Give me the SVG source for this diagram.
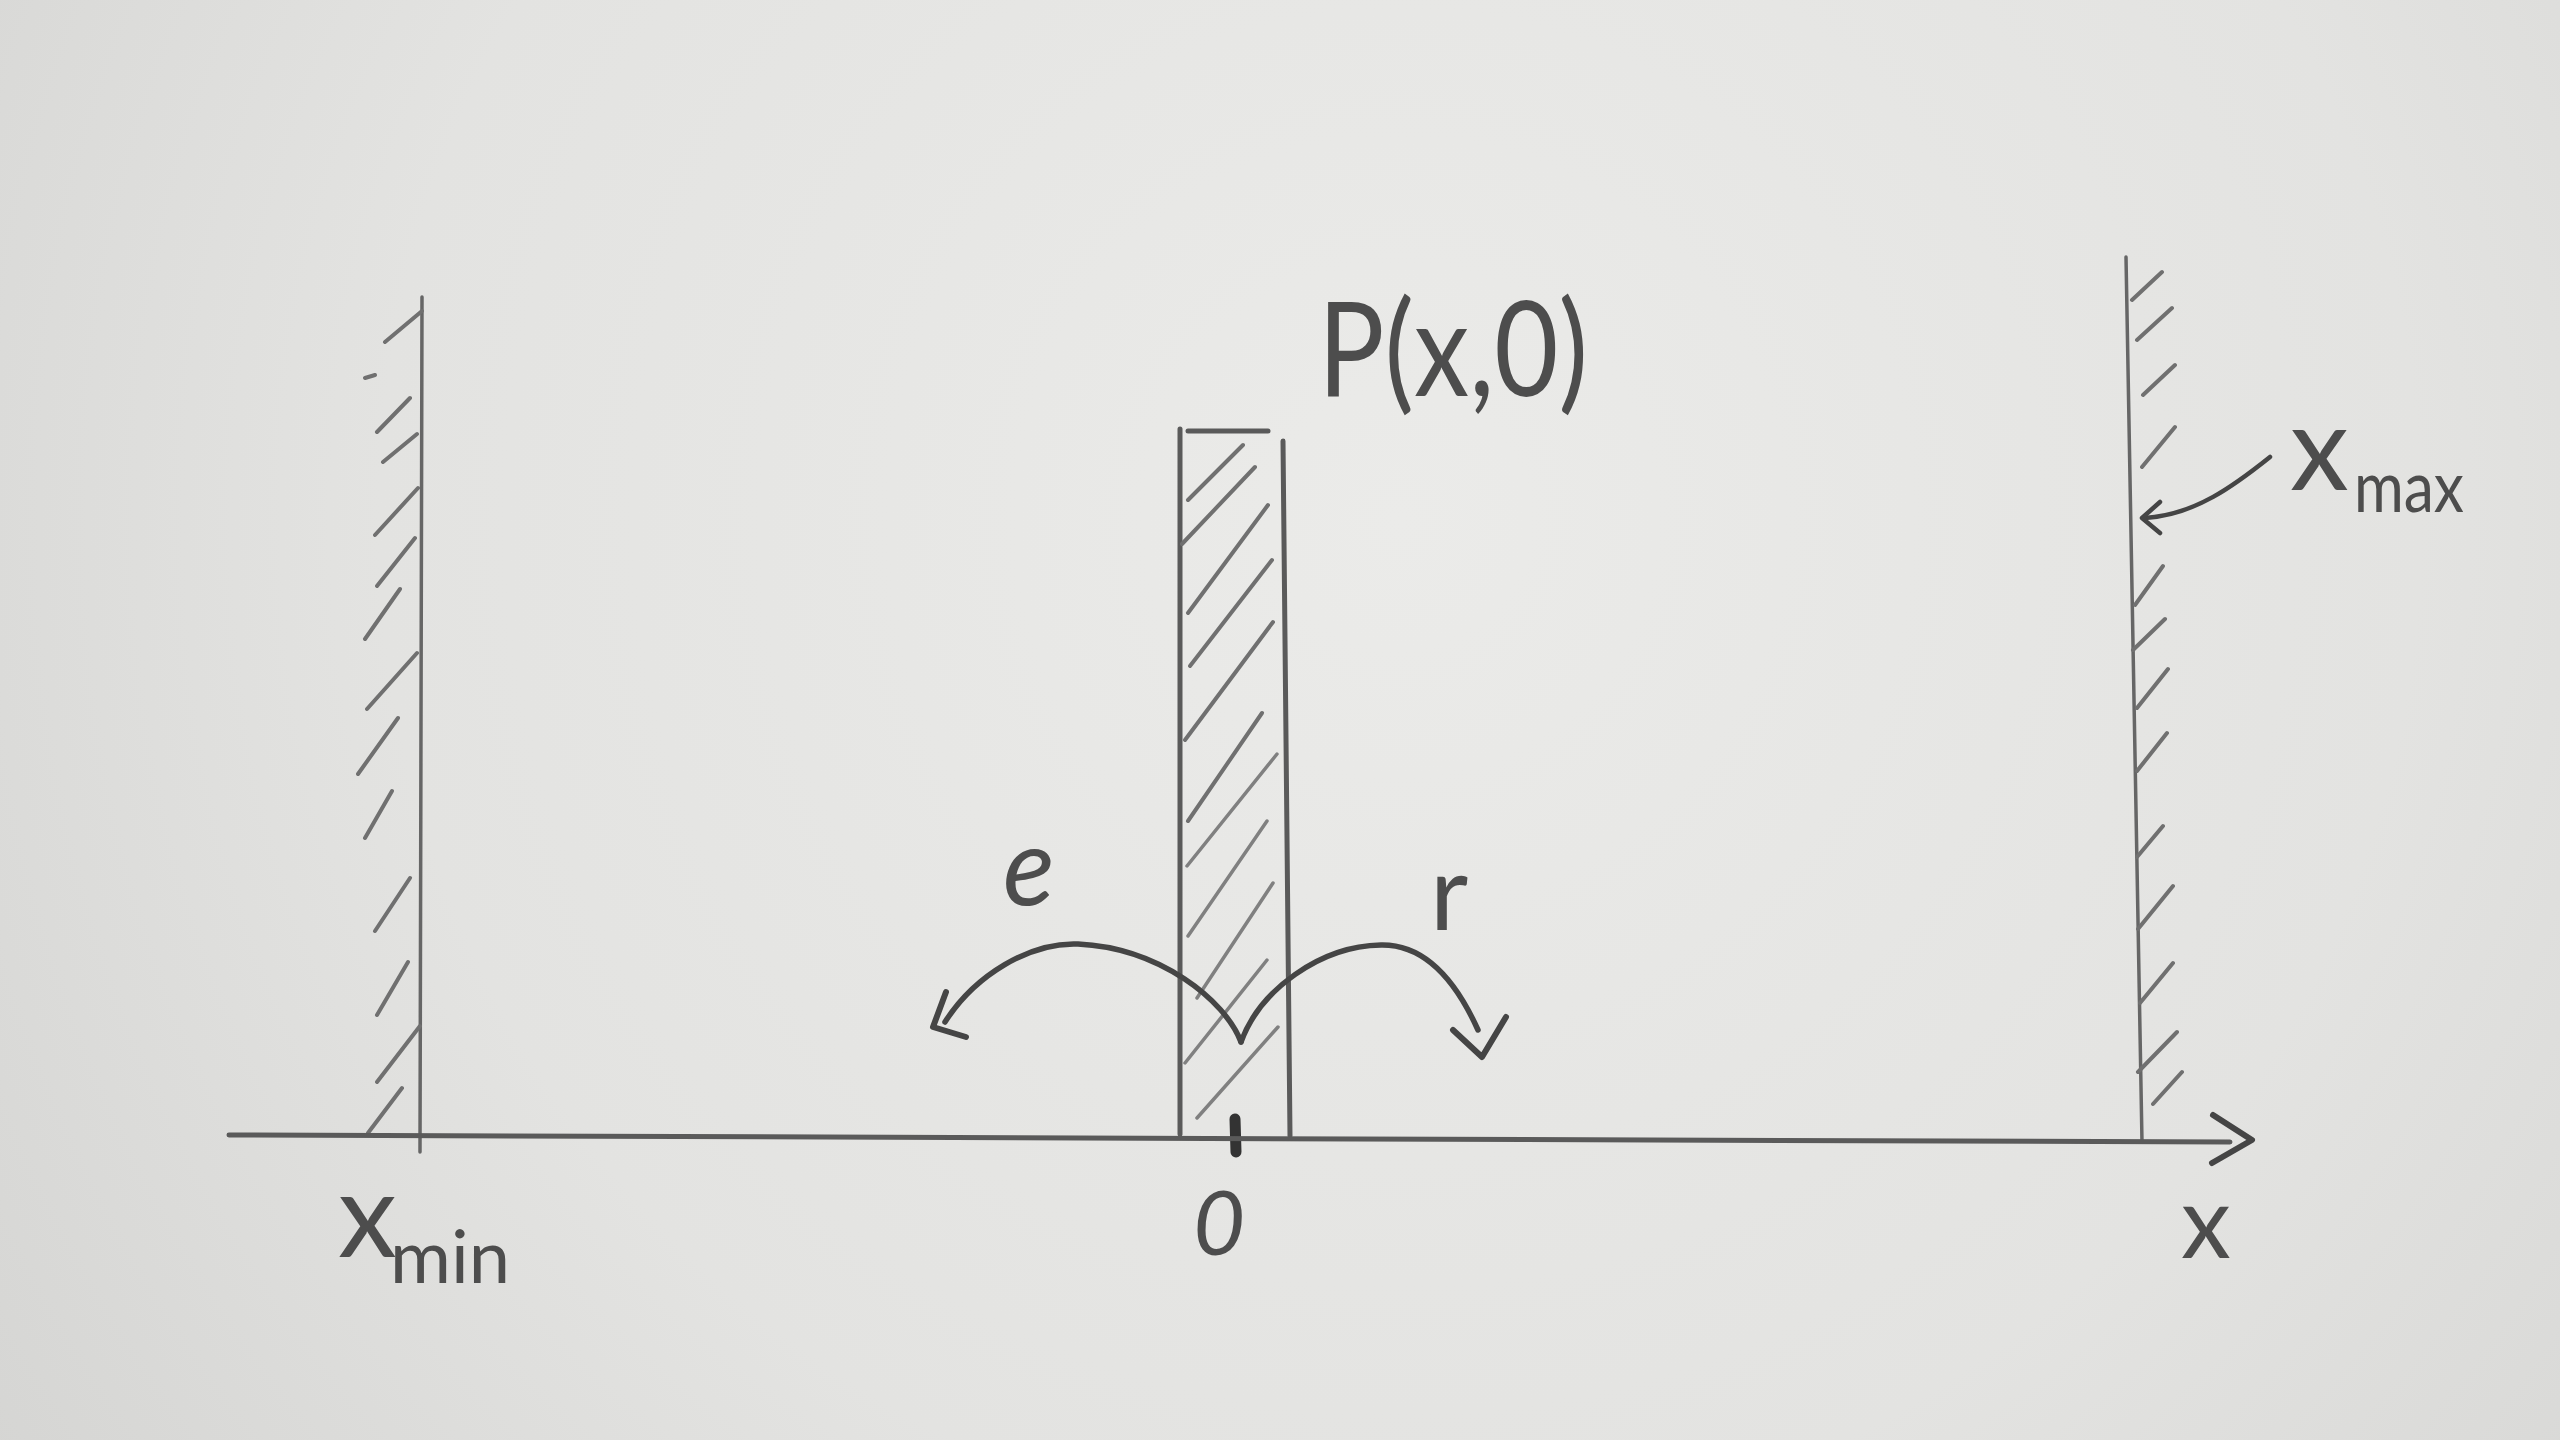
<svg xmlns="http://www.w3.org/2000/svg" width="2560" height="1440" viewBox="0 0 2560 1440">
<defs>
<radialGradient id="paper" cx="1400" cy="520" r="1700" gradientUnits="userSpaceOnUse">
<stop offset="0" stop-color="#ebebe9"/>
<stop offset="0.6" stop-color="#e3e3e1"/>
<stop offset="1" stop-color="#d5d5d3"/>
</radialGradient>
<style>
.wall{fill:none;stroke:#666;stroke-width:3.5;stroke-linecap:round}
.hatch{fill:none;stroke:#707070;stroke-width:4;stroke-linecap:round}
.edge{fill:none;stroke:#5a5a5a;stroke-width:5;stroke-linecap:round}
.conn{fill:none;stroke:#454545;stroke-width:5.5;stroke-linecap:round;stroke-linejoin:round}
.head{fill:none;stroke:#454545;stroke-width:6;stroke-linecap:round;stroke-linejoin:round}
.lbl{font-family:Lato,'Open Sans','DejaVu Sans',sans-serif;font-weight:400;fill:#4d4d4d}
</style>
</defs>
<rect width="2560" height="1440" fill="url(#paper)"/>

<g id="left-wall">
<path class="wall" d="M422,297 L420,1152"/>
<path class="hatch" d="M385,342 L422,311 M365,378 L375,375 M377,432 L410,398 M383,462 L417,434 M375,535 L418,488 M377,586 L415,538 M365,639 L400,589 M367,709 L417,653 M358,774 L398,718 M365,838 L392,791 M375,931 L410,878 M377,1015 L408,962 M377,1082 L420,1026 M368,1133 L402,1088"/>
</g>

<g id="right-wall">
<path class="wall" d="M2126,257 L2142,1142"/>
<path class="hatch" d="M2132,300 L2162,272 M2137,340 L2172,308 M2143,395 L2175,365 M2142,467 L2175,427 M2135,605 L2163,566 M2133,650 L2165,619 M2137,708 L2168,669 M2137,771 L2167,733 M2137,857 L2163,826 M2138,929 L2173,886 M2140,1003 L2173,963 M2138,1072 L2177,1032 M2153,1104 L2182,1072"/>
</g>

<g id="block-P">
<path class="edge" d="M1180,429 L1180,1134"/>
<path class="edge" d="M1283,441 L1290,1136"/>
<path class="edge" d="M1188,431 L1268,431"/>
<path class="hatch" d="M1188,500 L1243,445 M1182,544 L1255,467 M1188,613 L1268,505 M1190,666 L1272,560 M1185,740 L1273,622 M1188,821 L1262,713"/>
<path class="hatch" style="stroke:#808080;stroke-width:3.5" d="M1187,866 L1277,754 M1188,936 L1267,821 M1197,998 L1273,883 M1185,1063 L1267,960 M1197,1118 L1278,1027"/>
</g>

<g id="origin-tick">
<path d="M1235,1119 L1236,1152" fill="none" stroke="#333" stroke-width="11" stroke-linecap="round"/>
</g>

<g id="connectors">
<path id="x-axis" class="edge" d="M229,1135 L2230,1142"/>
<path class="head" d="M2213,1115 L2252,1140 L2212,1163"/>
<path id="arc-left" class="conn" d="M1241,1042 C1225,1000 1160,948 1078,944 C1030,942 975,975 945,1022"/>
<path class="head" d="M946,992 L933,1027 L966,1037"/>
<path id="arc-right" class="conn" d="M1241,1042 C1260,990 1320,946 1381,945 C1430,944 1460,990 1478,1030"/>
<path class="head" d="M1453,1030 L1482,1057 L1506,1017"/>
<path id="xmax-pointer" class="conn" style="stroke-width:4.5" d="M2270,457 C2235,485 2195,515 2145,518"/>
<path class="head" style="stroke-width:4.5" d="M2160,502 L2142,518 L2160,533"/>
</g>

<g id="labels">
<text class="lbl" x="1318" y="396" font-size="132" textLength="270" lengthAdjust="spacingAndGlyphs">P(x,0)</text>
<text class="lbl" x="2290" y="490" font-size="118">x</text>
<text class="lbl" x="2354" y="512" font-size="72" textLength="110" lengthAdjust="spacingAndGlyphs">max</text>
<text class="lbl" x="338" y="1257" font-size="118">x</text>
<text class="lbl" x="390" y="1283" font-size="74" textLength="120" lengthAdjust="spacingAndGlyphs">min</text>
<text class="lbl" x="1193" y="1255" font-size="90" font-style="italic">0</text>
<text class="lbl" x="2181" y="1258" font-size="100">x</text>
<text class="lbl" x="1003" y="905" font-size="108" font-style="italic">e</text>
<text class="lbl" x="1430" y="930" font-size="105">r</text>
</g>
</svg>
